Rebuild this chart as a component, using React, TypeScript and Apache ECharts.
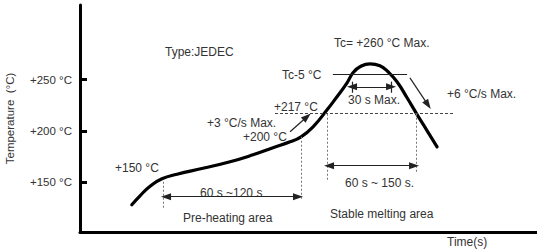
import React, { useEffect, useRef } from 'react';
import * as echarts from 'echarts';

// Reflow temperature profile (time in s, temperature in °C)
const profileTime = [34, 39.4, 46, 53.8, 63.7, 80.7, 98.5, 113.6, 126.7, 137.9, 145.1, 153, 162.2, 168.7, 175.3, 179.2, 183.8, 190.4, 196.9, 202.2, 208.1, 214.7, 221.2, 227.8, 234.4];
const profileTemp = [127.6, 136.4, 145.7, 153.1, 157.5, 163.3, 169.7, 176.5, 183.4, 189.2, 194.1, 203.9, 220.5, 233.3, 246.9, 256.7, 262.6, 265.5, 263.6, 257.7, 247.9, 232.3, 216.1, 200.2, 184.3];

const yTickValues = [150, 200, 250];

// guide lines: [[t1, T1], [t2, T2]]
const liquidusLine = [[128, 217], [246, 217]];
const tcMinus5Line = [[166, 255], [214.7, 255]];
const dottedMarkers = [
  [[54.5, 124.7], [54.5, 152.1]],
  [[145.1, 133.5], [145.1, 196.1]],
  [[162.2, 152.1], [162.2, 217]],
  [[220.6, 159.9], [220.6, 217]],
];
const spanArrows = [
  [[56.5, 135.5], [143.1, 135.5]],
  [[163.5, 165.8], [219.3, 165.8]],
  [[178.6, 243], [204.2, 243]],
];
const spanTicks = [
  [[178.6, 248], [178.6, 237.2]],
  [[204.2, 248], [204.2, 237.2]],
];
const slopeArrows = [
  [[137.9, 199], [149, 213.7]],
  [[216.6, 251.8], [228.4, 225.4]],
];

const annotations = [
  { text: 'Type:JEDEC', x: 165, y: 52 },
  { text: 'Tc= +260 °C Max.', x: 334, y: 43 },
  { text: 'Tc-5 °C', x: 282, y: 75 },
  { text: '30 s Max.', x: 348, y: 100 },
  { text: '+6 °C/s Max.', x: 447, y: 94 },
  { text: '+217 °C', x: 274, y: 107 },
  { text: '+3 °C/s Max.', x: 207, y: 123 },
  { text: '+200 °C', x: 243, y: 137 },
  { text: '+150 °C', x: 115, y: 168 },
  { text: '60 s ~120 s', x: 200, y: 193 },
  { text: 'Pre-heating area', x: 183, y: 218 },
  { text: '60 s ~ 150 s.', x: 345, y: 183 },
  { text: 'Stable melting area', x: 330, y: 214 },
  { text: 'Time(s)', x: 447, y: 242 },
];

const FONT = 'Liberation Sans, Arial, sans-serif';
const TEXT = '#333';

function seg(s: number[][], style: any, startArrow: boolean, endArrow: boolean) {
  return [
    { coord: s[0], symbol: startArrow ? 'triangle' : 'none', symbolSize: [7, 10], lineStyle: style },
    { coord: s[1], symbol: endArrow ? 'triangle' : 'none', symbolSize: [7, 10], lineStyle: style },
  ];
}

export default function App() {
  const ref = useRef<HTMLDivElement>(null);
  useEffect(() => {
    const chart = echarts.init(ref.current!, undefined, { renderer: 'svg' });
    const solid = { color: '#222', width: 1.2, type: 'solid' };
    const dotted = { color: '#777', width: 1, type: [2, 2] };
    const dashed = { color: '#444', width: 1, type: [3, 2] };
    const markData = [
      seg(liquidusLine, dashed, false, false),
      seg(tcMinus5Line, solid, false, false),
      ...dottedMarkers.map((s) => seg(s, dotted, false, false)),
      ...spanArrows.map((s) => seg(s, solid, true, true)),
      ...spanTicks.map((s) => seg(s, solid, false, false)),
      ...slopeArrows.map((s) => seg(s, solid, false, true)),
    ];
    chart.setOption({
      animation: false,
      backgroundColor: '#fff',
      grid: { left: 80, right: 0, top: 5, bottom: 18, containLabel: false, outerBoundsMode: 'none' },
      xAxis: {
        type: 'value', min: 0, max: 300,
        axisLine: { show: true, onZero: false, lineStyle: { color: '#000', width: 3 } },
        axisTick: { show: false }, axisLabel: { show: false }, splitLine: { show: false },
      },
      yAxis: {
        type: 'value', min: 101, max: 323,
        axisLine: { show: true, onZero: false, lineStyle: { color: '#000', width: 3 } },
        axisTick: { show: true, inside: true, length: 7, lineStyle: { color: '#000', width: 3 }, customValues: yTickValues },
        axisLabel: {
          customValues: yTickValues, formatter: (v: number) => `+${v} °C`,
          color: TEXT, fontSize: 11.5, fontFamily: FONT, margin: 8,
        },
        splitLine: { show: false },
        name: 'Temperature  (°C)', nameLocation: 'middle', nameGap: 64, nameRotate: 90,
        nameTextStyle: { color: TEXT, fontSize: 11.5, fontFamily: FONT },
      },
      series: [
        {
          type: 'line',
          data: profileTime.map((t, i) => [t, profileTemp[i]]),
          showSymbol: false, smooth: 0.5,
          lineStyle: { color: '#000', width: 3.2, cap: 'round' },
          silent: true,
          markLine: { silent: true, label: { show: false }, data: markData },
        },
      ],
      graphic: annotations.map((a) => ({
        type: 'text', x: a.x, y: a.y, silent: true,
        style: { text: a.text, fill: TEXT, fontSize: 12, fontFamily: FONT, align: 'left', verticalAlign: 'middle', textAlign: 'left', textVerticalAlign: 'middle' },
      })),
    });
    return () => chart.dispose();
  }, []);
  return <div ref={ref} style={{ position: 'absolute', left: 0, top: 0, width: 537, height: 250, background: '#fff' }} />;
}
